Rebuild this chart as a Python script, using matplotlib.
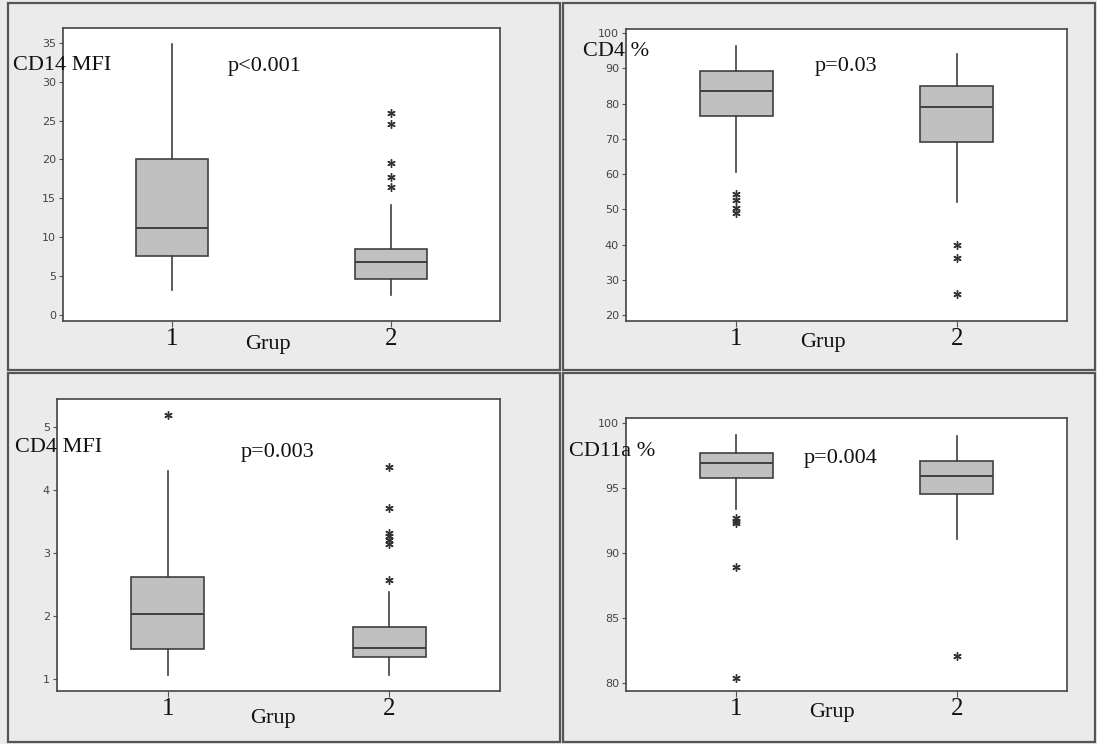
import matplotlib
matplotlib.use("Agg")
import matplotlib.pyplot as plt
from matplotlib.patches import Rectangle

# values: [whislo, q1, med, q3, whishi], outliers
cd14_g1 = [3.2, 7.6, 11.2, 20.1, 34.8]
cd14_g1_out = []
cd14_g2 = [2.6, 4.6, 6.8, 8.5, 14.1]
cd14_g2_out = [26.0, 24.6, 19.5, 17.8, 16.5]

cd4p_g1 = [60.5, 76.5, 83.7, 89.4, 96.5]
cd4p_g1_out = [54.3, 52.6, 50.3, 49.1]
cd4p_g2 = [52.0, 69.1, 79.0, 85.1, 94.1]
cd4p_g2_out = [39.8, 36.2, 26.1]

cd4m_g1 = [1.07, 1.47, 2.03, 2.62, 4.30]
cd4m_g1_out = [5.19]
cd4m_g2 = [1.07, 1.35, 1.50, 1.82, 2.38]
cd4m_g2_out = [4.37, 3.72, 3.32, 3.28, 3.21, 3.14, 2.57]

cd11_g1 = [93.4, 95.8, 96.9, 97.7, 99.1]
cd11_g1_out = [92.7, 92.5, 92.3, 88.9, 80.4]
cd11_g2 = [91.05, 94.55, 95.96, 97.06, 98.98]
cd11_g2_out = [82.1]

groups = ["1", "2"]
labels = ["CD14 MFI", "CD4 %", "CD4 MFI", "CD11a %"]
pvals = ["p<0.001", "p=0.03", "p=0.003", "p=0.004"]
yticks = [[0, 5, 10, 15, 20, 25, 30, 35],
          [20, 30, 40, 50, 60, 70, 80, 90, 100],
          [1, 2, 3, 4, 5],
          [80, 85, 90, 95, 100]]

W, H = 1097, 744
fig = plt.figure(figsize=(W / 100, H / 100), dpi=100)
fig.patch.set_facecolor("#ebebeb")

def fx(px):
    return px / W

def fy(py):
    return 1 - py / H

# panel frames
for (x0, y0, x1, y1) in [(8, 3, 560, 370), (563, 3, 1095, 370),
                         (8, 373, 560, 742), (563, 373, 1095, 742)]:
    fig.patches.append(Rectangle((fx(x0), fy(y1)), fx(x1 - x0), (y1 - y0) / H,
                                 transform=fig.transFigure, fill=False,
                                 edgecolor="#555555", lw=1.6))

# axes boxes in pixels: left, top, right, bottom
boxes_px = [(63, 28, 500, 321), (626, 29, 1067, 321),
            (57, 399, 500, 691), (626, 418, 1067, 691)]
ylims = [(-0.77, 36.9), (18.3, 101.2), (0.81, 5.45), (79.41, 100.38)]
data = [(cd14_g1, cd14_g1_out, cd14_g2, cd14_g2_out),
        (cd4p_g1, cd4p_g1_out, cd4p_g2, cd4p_g2_out),
        (cd4m_g1, cd4m_g1_out, cd4m_g2, cd4m_g2_out),
        (cd11_g1, cd11_g1_out, cd11_g2, cd11_g2_out)]
lab_pos = [(13, 65), (583, 52), (15, 448), (569, 452)]
p_pos = [(228, 67), (815, 67), (241, 452), (804, 458)]
grup_pos = [(268, 345), (823, 343), (273, 719), (832, 713)]

serif = "Liberation Serif"
edge = "#404040"
ink = "#111111"

for i in range(4):
    l, t, r, b = boxes_px[i]
    ax = fig.add_axes([fx(l), fy(b), fx(r - l), (b - t) / H])
    g1, o1, g2, o2 = data[i]
    stats = []
    for s, o in [(g1, o1), (g2, o2)]:
        stats.append(dict(whislo=s[0], q1=s[1], med=s[2], q3=s[3],
                          whishi=s[4], fliers=o))
    ax.bxp(stats, positions=[1, 2], widths=0.33, patch_artist=True,
           showcaps=False,
           boxprops=dict(facecolor="#c0c0c0", edgecolor=edge, lw=1.2),
           medianprops=dict(color=edge, lw=1.4),
           whiskerprops=dict(color=edge, lw=1.2),
           flierprops=dict(marker=(6, 2, 0), markersize=6,
                           markeredgecolor="#333333", markeredgewidth=1.0,
                           linestyle="none"))
    ax.set_xlim(0.5, 2.5)
    ax.set_ylim(*ylims[i])
    ax.set_yticks(yticks[i])
    ax.set_xticks([1, 2])
    ax.set_xticklabels(groups, fontfamily=serif, fontsize=18, color=ink)
    ax.tick_params(axis="y", labelsize=8, labelcolor="#444444", color="#555555",
                   length=3, width=0.8, pad=2)
    ax.tick_params(axis="x", color="#555555", length=4, width=0.8, pad=1)
    for sp in ax.spines.values():
        sp.set_color("#444444")
        sp.set_linewidth(1.2)
    ax.set_facecolor("white")

    fig.text(fx(lab_pos[i][0]), fy(lab_pos[i][1]), labels[i], fontfamily=serif,
             fontsize=16, color=ink, ha="left", va="center", zorder=5)
    fig.text(fx(p_pos[i][0]), fy(p_pos[i][1]), pvals[i], fontfamily=serif,
             fontsize=16, color=ink, ha="left", va="center", zorder=5)
    fig.text(fx(grup_pos[i][0]), fy(grup_pos[i][1]), "Grup", fontfamily=serif,
             fontsize=16, color=ink, ha="center", va="center", zorder=5)

fig.savefig("out.png", dpi=100, facecolor=fig.get_facecolor())
